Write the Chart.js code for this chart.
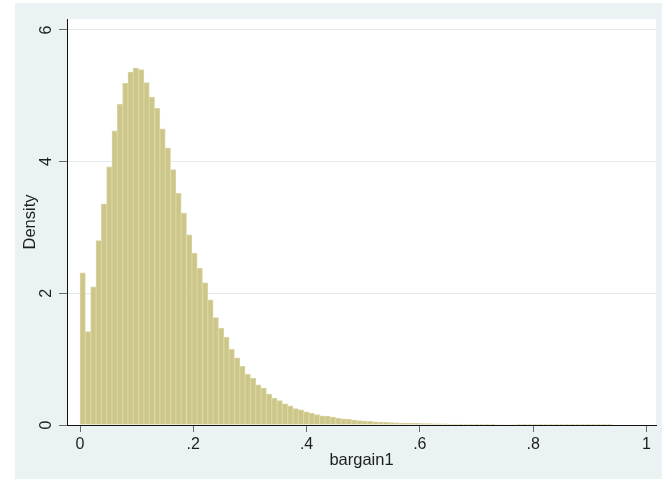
<!DOCTYPE html>
<html>
<head>
<meta charset="utf-8">
<script src="https://cdn.jsdelivr.net/npm/chart.js@4/dist/chart.umd.min.js"></script>
<style>
  html, body { margin: 0; padding: 0; background: #fff; }
  #wrap { width: 664px; height: 482px; }
</style>
</head>
<body>
<div id="wrap"><canvas id="c" width="664" height="482"></canvas></div>
<script>
// Histogram of bargain1: 100 equal-width bins starting at 0
const binWidth = 0.0094;
const density = [
  2.31, 1.42, 2.10, 2.80, 3.36, 3.92, 4.47, 4.87, 5.19, 5.36,
  5.42, 5.40, 5.20, 4.98, 4.81, 4.50, 4.21, 3.88, 3.52, 3.22,
  2.89, 2.61, 2.38, 2.16, 1.90, 1.63, 1.47, 1.33, 1.15, 1.02,
  0.89, 0.77, 0.71, 0.61, 0.56, 0.47, 0.41, 0.37, 0.32, 0.29,
  0.25, 0.23, 0.20, 0.18, 0.16, 0.14, 0.13, 0.12, 0.105, 0.095,
  0.085, 0.075, 0.068, 0.060, 0.055, 0.048, 0.044, 0.040, 0.036, 0.033,
  0.030, 0.028, 0.026, 0.024, 0.022, 0.020, 0.019, 0.017, 0.016, 0.015,
  0.014, 0.013, 0.012, 0.011, 0.011, 0.010, 0.009, 0.009, 0.008, 0.008,
  0.007, 0.007, 0.006, 0.006, 0.005, 0.005, 0.005, 0.004, 0.004, 0.004,
  0.003, 0.003, 0.003, 0.002, 0.002, 0.002, 0.002, 0.003, 0.004, 0.002
];
const xTicks = [0, 0.2, 0.4, 0.6, 0.8, 1];
const xTickLabels = ['0', '.2', '.4', '.6', '.8', '1'];
const yTicks = [0, 2, 4, 6];
const yTickLabels = ['0', '2', '4', '6'];
const xTitle = 'bargain1';
const yTitle = 'Density';

const points = density.map((d, i) => ({ x: (i + 0.5) * binWidth, y: d }));

const FONT = "'Liberation Sans', Arial, sans-serif";
const TEXT = '#1e1e1e';

// graph region (light bluish gray) and white plot region
const backdrop = {
  id: 'backdrop',
  beforeDraw(chart) {
    const { ctx, chartArea: a } = chart;
    ctx.save();
    ctx.fillStyle = '#ffffff';
    ctx.fillRect(0, 0, chart.width, chart.height);
    ctx.fillStyle = '#EAF2F3';
    ctx.fillRect(15, 3, 647, 476);
    ctx.fillStyle = '#ffffff';
    ctx.fillRect(a.left, a.top, a.right - a.left, a.bottom - a.top);
    ctx.restore();
  }
};

new Chart(document.getElementById('c'), {
  type: 'bar',
  data: {
    datasets: [{
      data: points,
      backgroundColor: 'rgb(204,198,138)',
      borderColor: 'rgb(217,213,160)',
      borderWidth: 1,
      barPercentage: 1,
      categoryPercentage: 1
    }]
  },
  options: {
    responsive: false,
    animation: false,
    layout: { padding: { left: 0, top: 19, right: 8, bottom: 0 } },
    plugins: {
      legend: { display: false },
      tooltip: { enabled: false }
    },
    scales: {
      x: {
        type: 'linear',
        min: -0.023,
        max: 1.017,
        offset: false,
        afterBuildTicks: s => { s.ticks = xTicks.map(v => ({ value: v })); },
        afterFit: s => { s.height = 57; },
        ticks: {
          autoSkip: false,
          maxRotation: 0,
          padding: 3,
          color: TEXT,
          font: { family: FONT, size: 16 },
          callback: v => xTickLabels[xTicks.indexOf(v)]
        },
        grid: {
          offset: false,
          drawOnChartArea: false,
          tickLength: 7,
          tickColor: '#6b6b6b',
          tickWidth: 1
        },
        border: { color: '#111', width: 1 },
        title: {
          display: true,
          text: xTitle,
          color: TEXT,
          font: { family: FONT, size: 16.5 },
          padding: { top: 0, bottom: 11.5 }
        }
      },
      y: {
        min: 0,
        max: 6.167,
        afterBuildTicks: s => { s.ticks = yTicks.map(v => ({ value: v })); },
        afterFit: s => { s.width = 67; },
        ticks: {
          minRotation: 90,
          maxRotation: 90,
          crossAlign: 'center',
          padding: 8,
          color: TEXT,
          font: { family: FONT, size: 16 },
          callback: v => yTickLabels[yTicks.indexOf(v)]
        },
        grid: {
          color: '#E3EAEC',
          lineWidth: 1,
          tickLength: 8,
          tickColor: '#6b6b6b'
        },
        border: { color: '#111', width: 1 },
        title: {
          display: true,
          text: yTitle,
          color: TEXT,
          font: { family: FONT, size: 16.5 },
          padding: { top: 20.5, bottom: 0 }
        }
      }
    }
  },
  plugins: [backdrop]
});
</script>
</body>
</html>
